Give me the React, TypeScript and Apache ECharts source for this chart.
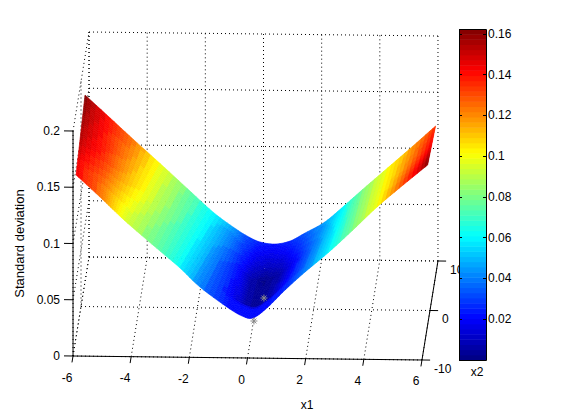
import React, { useEffect, useRef } from "react";
import * as echarts from "echarts";

const FONT = '"Liberation Sans", Arial, sans-serif';

// tick values
const x1Ticks = [-6, -4, -2, 0, 2, 4, 6];
const x2Ticks = [-10, 0, 10];
const zTicks = [0, 0.05, 0.1, 0.15, 0.2];

// surface: upper and lower edges of the strip (x1, x2, std-dev)
const upperX1 = [-6.0, -5.14, -4.36, -3.43, -2.51, -1.62, -0.93, -0.45, -0.01, 0.5, 1.02, 1.53, 2.21, 2.9, 3.52, 4.37, 5.23, 6.0];
const upperX2 = [5.0, 5.1, 5.2, 5.4, 5.5, 5.6, 5.7, 5.8, 5.9, 6.1, 6.2, 6.3, 6.4, 6.5, 6.6, 6.8, 6.9, 7.0];
const upperZ = [0.166, 0.1454, 0.1265, 0.1041, 0.082, 0.0607, 0.0471, 0.0388, 0.0332, 0.0306, 0.033, 0.0398, 0.0494, 0.0642, 0.0782, 0.0966, 0.1157, 0.1332];
const lowerX1 = [-6.0, -5.18, -4.74, -4.23, -3.24, -2.45, -1.77, -0.85, -0.33, 0.04, 0.51, 1.13, 1.81, 2.59, 3.41, 4.27, 5.16, 6.0];
const lowerX2 = [-6.2, -6.0, -5.9, -5.7, -5.5, -5.3, -5.1, -4.9, -4.7, -4.5, -4.3, -4.1, -3.9, -3.7, -3.5, -3.3, -3.1, -2.9];
const lowerZ = [0.1442, 0.1239, 0.1126, 0.0994, 0.0767, 0.0586, 0.041, 0.0227, 0.0139, 0.0114, 0.0195, 0.0348, 0.0501, 0.0664, 0.0853, 0.106, 0.1249, 0.1421];

// surface colour values: upper edge, middle, just above the fold near the lower edge, lower edge
const upperColor = [0.163, 0.14, 0.125, 0.1, 0.08, 0.06, 0.045, 0.032, 0.025, 0.023, 0.026, 0.034, 0.045, 0.062, 0.08, 0.1, 0.118, 0.135];
const midColor = [0.155, 0.135, 0.118, 0.1, 0.078, 0.06, 0.04, 0.022, 0.008, 0.002, 0.006, 0.02, 0.04, 0.06, 0.08, 0.1, 0.122, 0.145];
const foldColor = [0.145, 0.125, 0.11, 0.095, 0.075, 0.06, 0.04, 0.02, 0.008, 0.003, 0.007, 0.022, 0.04, 0.06, 0.08, 0.1, 0.13, 0.16];
const lowerColor = [0.145, 0.125, 0.11, 0.095, 0.075, 0.06, 0.04, 0.022, 0.021, 0.021, 0.022, 0.026, 0.04, 0.06, 0.08, 0.1, 0.13, 0.16];

// the two gray star markers (x1, x2, std-dev)
const markerX1 = [0.29, 0.07];
const markerX2 = [0, -4.5];
const markerZ = [0.0094, 0.0087];

const colorMax = 0.1624;
const LEVELS = 64;

// fixed view of the 3-D box
function project(x1: number, x2: number, z: number): [number, number] {
  return [255.5 + 29.08 * x1 + 0.8 * x2, 308.5 + 0.333 * x1 - 4.95 * x2 - 1125 * z];
}

function jet(level: number): string {
  const t = (level + 0.5) / LEVELS;
  const f = (v: number) => Math.round(255 * Math.max(0, Math.min(1, v)));
  return `rgb(${f(1.5 - Math.abs(4 * t - 3))},${f(1.5 - Math.abs(4 * t - 2))},${f(1.5 - Math.abs(4 * t - 1))})`;
}
function colorOf(v: number): string {
  return jet(Math.max(0, Math.min(LEVELS - 1, Math.floor((v / colorMax) * LEVELS))));
}

const lerp = (a: number, b: number, t: number) => a + (b - a) * t;

// Catmull-Rom through an edge array: the edge of a smooth surface between the read points
function edge(arr: number[], i: number, s: number): number {
  const n = arr.length - 1;
  const p0 = arr[Math.max(i - 1, 0)], p1 = arr[i], p2 = arr[Math.min(i + 1, n)], p3 = arr[Math.min(i + 2, n)];
  return 0.5 * (2 * p1 + (p2 - p0) * s + (2 * p0 - 5 * p1 + 4 * p2 - p3) * s * s + (3 * p1 - p0 - 3 * p2 + p3) * s * s * s);
}

function colorAt(i: number, t: number): number {
  if (t < 0.5) return lerp(upperColor[i], midColor[i], t / 0.5);
  if (t < 0.85) return lerp(midColor[i], foldColor[i], (t - 0.5) / 0.35);
  if (t < 0.87) return lerp(foldColor[i], lowerColor[i], (t - 0.85) / 0.02);
  return lowerColor[i];
}

type Cell = { pts: [number, number][]; color: string };
function buildCells(): Cell[] {
  const out: Cell[] = [];
  const nS = 6;
  const nT = 40;
  const pos = (i: number, s: number, t: number): [number, number] =>
    project(
      lerp(edge(upperX1, i, s), edge(lowerX1, i, s), t),
      lerp(edge(upperX2, i, s), edge(lowerX2, i, s), t),
      lerp(edge(upperZ, i, s), edge(lowerZ, i, s), t)
    );
  for (let i = 0; i < upperX1.length - 1; i++) {
    for (let a = 0; a < nS; a++) {
      for (let b = 0; b < nT; b++) {
        const s0 = a / nS, s1 = (a + 1) / nS, t0 = b / nT, t1 = (b + 1) / nT;
        const tc = (t0 + t1) / 2, sc = (s0 + s1) / 2;
        const v = lerp(colorAt(i, tc), colorAt(i + 1, tc), sc);
        out.push({ pts: [pos(i, s0, t0), pos(i, s1, t0), pos(i, s1, t1), pos(i, s0, t1)], color: colorOf(v) });
      }
    }
  }
  return out;
}

type Seg = { a: [number, number]; b: [number, number]; solid: boolean };
function buildFrame(): Seg[] {
  const out: Seg[] = [];
  const dot = (a: [number, number], b: [number, number]) => out.push({ a, b, solid: false });
  const zTop = zTicks[zTicks.length - 1];
  for (const x of x1Ticks) {
    dot(project(x, -10, 0), project(x, 10, 0));
    dot(project(x, 10, 0), project(x, 10, zTop));
  }
  for (const y of x2Ticks) {
    dot(project(-6, y, 0), project(6, y, 0));
    dot(project(-6, y, 0), project(-6, y, zTop));
  }
  for (const z of zTicks) {
    dot(project(-6, 10, z), project(6, 10, z));
    dot(project(-6, -10, z), project(-6, 10, z));
  }
  const solid = (a: [number, number], b: [number, number]) => out.push({ a, b, solid: true });
  solid(project(-6, -10, 0), project(6, -10, 0));
  solid(project(6, -10, 0), project(6, 10, 0));
  solid(project(-6, -10, 0), project(-6, -10, zTop));
  for (const x of x1Ticks) solid(project(x, -10, 0), project(x, -11.3, 0));
  for (const y of x2Ticks) solid(project(6, y, 0), project(6.28, y, 0));
  for (const z of zTicks) solid(project(-6, -10, z), project(-6.31, -10, z));
  return out;
}

type Lab = { p: [number, number]; text: string; align: string };
function buildLabels(): Lab[] {
  const out: Lab[] = [];
  for (const x of x1Ticks) {
    const [sx, sy] = project(x, -10, 0);
    out.push({ p: [sx - 6, sy + 21.5], text: String(x), align: "center" });
  }
  for (const y of x2Ticks) {
    const [sx, sy] = project(6, y, 0);
    out.push({ p: [sx + 12, sy + 9], text: String(y), align: "left" });
  }
  return out;
}

export default function App() {
  const ref = useRef<HTMLDivElement>(null);
  useEffect(() => {
    document.body.style.margin = "0";
    const chart = echarts.init(ref.current!, undefined, { renderer: "svg" });
    const cells = buildCells();
    const frame = buildFrame();
    const labels = buildLabels();
    const fmt = (v: number) => String(+v.toFixed(2));
    const cbFmt = (v: number) => (v === 0 || v > 0.161 ? "" : fmt(v));
    const text = { color: "#000", fontFamily: FONT, fontSize: 12 };
    const levelIdx = Array.from({ length: LEVELS }, (_, i) => [i]);
    chart.setOption({
      animation: false,
      backgroundColor: "#fff",
      grid: [
        { left: 0, top: 0, width: 561, height: 414 },
        { left: 73, top: 131, width: 348, height: 225 },
        { left: 459, top: 29, width: 27, height: 331 },
      ],
      xAxis: [
        { gridIndex: 0, type: "value", min: 0, max: 561, show: false },
        { gridIndex: 1, type: "value", min: 0, max: 1, show: false },
        { gridIndex: 2, type: "value", min: 0, max: 1, show: false },
      ],
      yAxis: [
        { gridIndex: 0, type: "value", min: 0, max: 414, inverse: true, show: false },
        {
          gridIndex: 1,
          type: "value",
          min: 0,
          max: 0.2,
          interval: 0.05,
          name: "Standard deviation",
          nameLocation: "middle",
          nameGap: 47,
          nameTextStyle: { ...text, fontSize: 13 },
          axisLine: { show: false },
          axisTick: { show: false },
          axisLabel: { ...text, margin: 13, formatter: fmt },
          splitLine: { show: false },
          z: 4,
        },
        {
          gridIndex: 2,
          type: "value",
          position: "left",
          min: 0,
          max: colorMax,
          interval: 0.02,
          axisLine: { show: false },
          axisTick: { show: true, inside: true, length: 3, lineStyle: { color: "#000" } },
          axisLabel: { show: false },
          splitLine: { show: false },
          z: 10,
        },
        {
          gridIndex: 2,
          type: "value",
          position: "right",
          min: 0,
          max: colorMax,
          interval: 0.02,
          axisLine: { show: false },
          axisTick: { show: true, inside: true, length: 3, lineStyle: { color: "#000" } },
          axisLabel: { ...text, margin: 2, formatter: cbFmt },
          splitLine: { show: false },
          z: 10,
        },
      ],
      graphic: [
        { type: "text", x: 307, y: 405, style: { text: "x1", fontFamily: FONT, fontSize: 12, fill: "#000", align: "center", verticalAlign: "middle" } },
        { type: "text", x: 477, y: 372, style: { text: "x2", fontFamily: FONT, fontSize: 12, fill: "#000", align: "center", verticalAlign: "middle" } },
      ],
      series: [
        {
          type: "custom",
          name: "frame",
          xAxisIndex: 0,
          yAxisIndex: 0,
          clip: false,
          silent: true,
          z: 1,
          data: frame.map((_, i) => [i]),
          renderItem: (p: any, api: any) => {
            const s = frame[p.dataIndex];
            const a = api.coord(s.a);
            const b = api.coord(s.b);
            return {
              type: "line",
              shape: { x1: a[0], y1: a[1], x2: b[0], y2: b[1] },
              style: { stroke: "#000", lineWidth: 1, lineDash: s.solid ? null : [1, 3] },
            };
          },
        },
        {
          type: "custom",
          name: "surface",
          xAxisIndex: 0,
          yAxisIndex: 0,
          clip: false,
          silent: true,
          z: 2,
          data: cells.map((_, i) => [i]),
          renderItem: (p: any, api: any) => {
            const c = cells[p.dataIndex];
            return {
              type: "polygon",
              shape: { points: c.pts.map((q) => api.coord(q)) },
              style: { fill: c.color, stroke: c.color, lineWidth: 0.6 },
            };
          },
        },
        {
          type: "custom",
          name: "markers",
          xAxisIndex: 0,
          yAxisIndex: 0,
          clip: false,
          silent: true,
          z: 3,
          data: markerX1.map((_, i) => [i]),
          renderItem: (p: any, api: any) => {
            const i = p.dataIndex;
            const c = api.coord(project(markerX1[i], markerX2[i], markerZ[i]));
            const r = 3.5;
            const seg = (dx: number, dy: number) => ({
              type: "line",
              shape: { x1: c[0] - dx, y1: c[1] - dy, x2: c[0] + dx, y2: c[1] + dy },
              style: { stroke: "#8a8a8a", lineWidth: 1 },
            });
            return { type: "group", children: [seg(0, r), seg(r, 0), seg(r * 0.7, r * 0.7), seg(r * 0.7, -r * 0.7)] };
          },
        },
        {
          type: "custom",
          name: "tick labels",
          xAxisIndex: 0,
          yAxisIndex: 0,
          clip: false,
          silent: true,
          z: 3,
          data: labels.map((_, i) => [i]),
          renderItem: (p: any, api: any) => {
            const l = labels[p.dataIndex];
            const c = api.coord(l.p);
            return {
              type: "text",
              x: c[0],
              y: c[1],
              style: { text: l.text, fontFamily: FONT, fontSize: 12, fill: "#000", align: l.align, verticalAlign: "middle" },
            };
          },
        },
        {
          type: "custom",
          name: "colorbar",
          xAxisIndex: 2,
          yAxisIndex: 2,
          clip: false,
          silent: true,
          z: 5,
          data: levelIdx,
          renderItem: (p: any, api: any) => {
            const i = p.dataIndex;
            const a = api.coord([0, (i / LEVELS) * colorMax]);
            const b = api.coord([1, ((i + 1) / LEVELS) * colorMax]);
            return {
              type: "rect",
              shape: { x: a[0], y: b[1], width: b[0] - a[0], height: a[1] - b[1] + 0.5 },
              style: { fill: jet(i) },
            };
          },
        },
        {
          type: "custom",
          name: "colorbar frame",
          xAxisIndex: 2,
          yAxisIndex: 2,
          clip: false,
          silent: true,
          z: 6,
          data: [[0]],
          renderItem: (_p: any, api: any) => {
            const a = api.coord([0, 0]);
            const b = api.coord([1, colorMax]);
            return {
              type: "rect",
              shape: { x: a[0] + 0.5, y: b[1] + 0.5, width: b[0] - a[0], height: a[1] - b[1] },
              style: { fill: "none", stroke: "#000", lineWidth: 1 },
            };
          },
        },
      ],
    });
    return () => chart.dispose();
  }, []);
  return <div ref={ref} style={{ position: "absolute", left: 0, top: 0, width: 561, height: 414 }} />;
}
